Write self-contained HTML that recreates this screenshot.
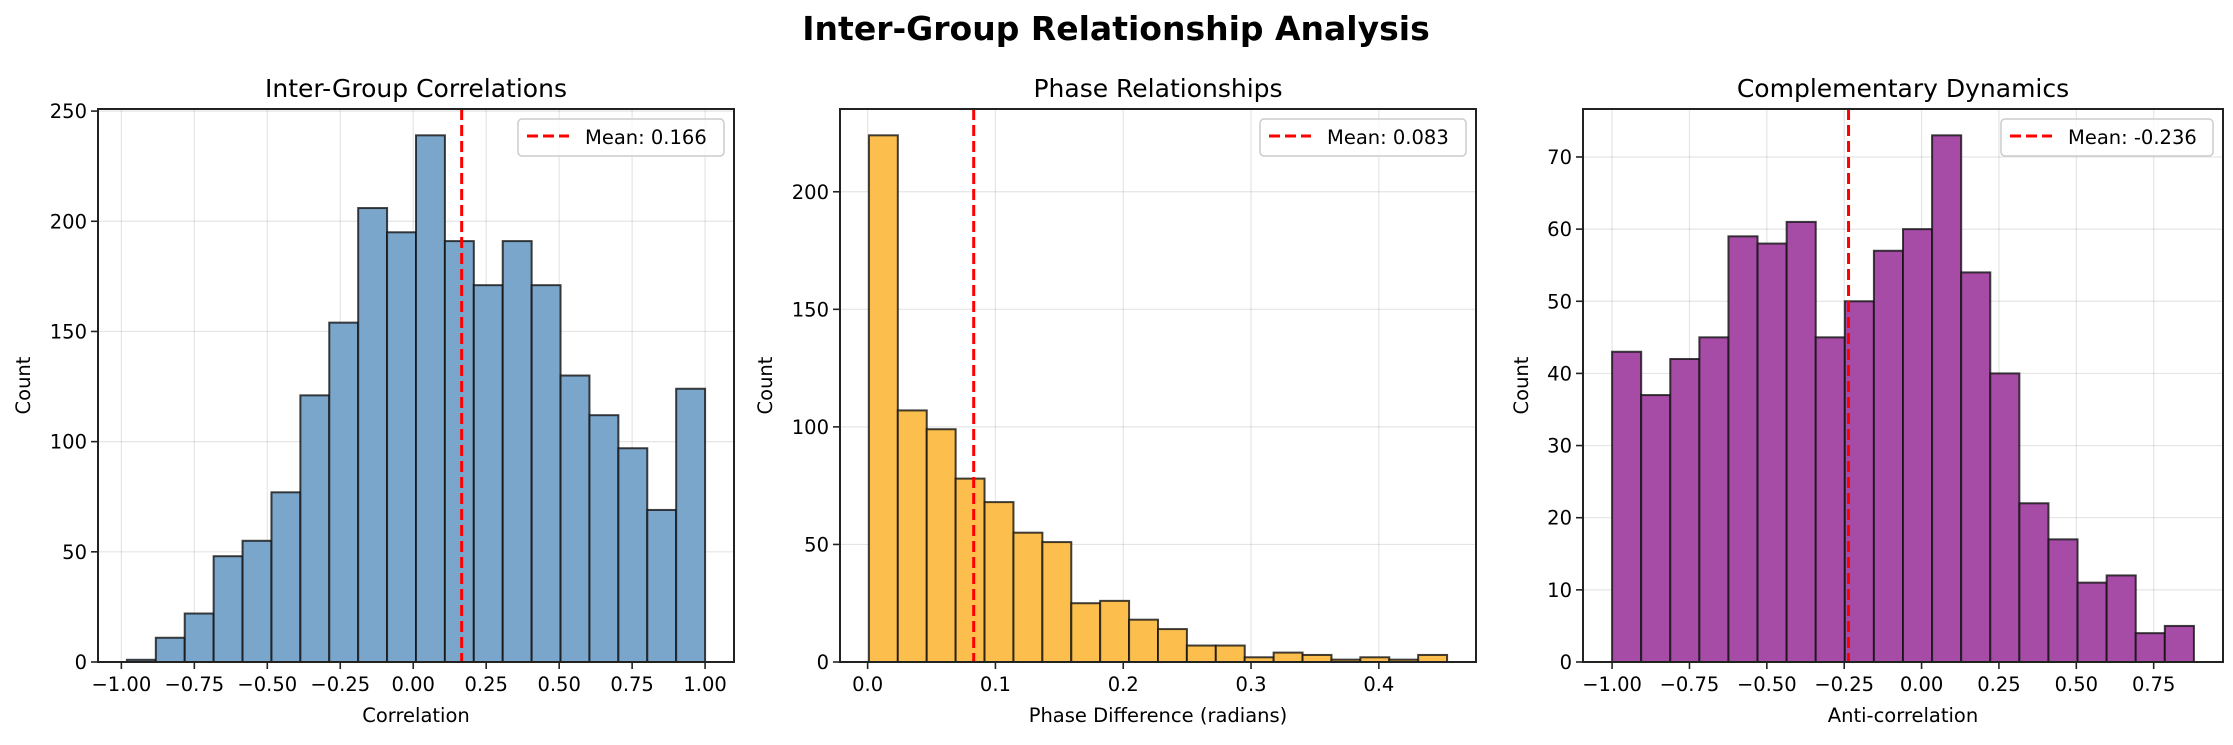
<!DOCTYPE html>
<html><head><meta charset="utf-8"><style>
body{margin:0;background:#fff;}
svg text{font-family:"DejaVu Sans","Liberation Sans",sans-serif;fill:#000;}
</style></head><body>
<svg id="fig" width="2233" height="740" xmlns="http://www.w3.org/2000/svg">
<rect width="2233" height="740" fill="#fff"/>
<text x="1116" y="40" text-anchor="middle" font-size="33" font-weight="bold">Inter-Group Relationship Analysis</text>
</svg>
<script>
const corrCounts=[1,11,22,48,55,77,121,154,206,195,239,191,171,191,171,130,112,97,69,124];
const phaseCounts=[224,107,99,78,68,55,51,25,26,18,14,7,7,2,4,3,1,2,1,3];
const compCounts=[43,37,42,45,59,58,61,45,50,57,60,73,54,40,22,17,11,12,4,5];
const corrRange=[-0.981,1.0];
const phaseRange=[0.001,0.4534];
const compRange=[-1.0,0.88];
const corrMean=0.166, phaseMean=0.083, compMean=-0.236;
const corrXTicks=[-1,-0.75,-0.5,-0.25,0,0.25,0.5,0.75,1];
const corrXLabels=["−1.00","−0.75","−0.50","−0.25","0.00","0.25","0.50","0.75","1.00"];
const corrYTicks=[0,50,100,150,200,250];
const phaseXTicks=[0,0.1,0.2,0.3,0.4];
const phaseXLabels=["0.0","0.1","0.2","0.3","0.4"];
const phaseYTicks=[0,50,100,150,200];
const compXTicks=[-1,-0.75,-0.5,-0.25,0,0.25,0.5,0.75];
const compXLabels=["−1.00","−0.75","−0.50","−0.25","0.00","0.25","0.50","0.75"];
const compYTicks=[0,10,20,30,40,50,60,70];

const NS="http://www.w3.org/2000/svg";
const svg=document.getElementById('fig');
function mk(tag,attrs,parent){const e=document.createElementNS(NS,tag);for(const k in attrs)e.setAttribute(k,attrs[k]);(parent||svg).appendChild(e);return e;}

function panel(o){
  const g=mk('g',{});
  
  
  const L=o.left,R=o.right,T=109,B=662;
  const n=o.counts.length, bw=(o.range[1]-o.range[0])/n;
  const xmin=o.range[0]-bw, xmax=o.range[1]+bw;
  const ymax=Math.max(...o.counts)*1.05;
  const sx=v=>L+(v-xmin)/(xmax-xmin)*(R-L);
  const sy=v=>B-v/ymax*(B-T);
  o.xt.forEach(v=>{const l=mk('line',{x1:sx(v),x2:sx(v),y1:T,y2:B,stroke:'#000','stroke-opacity':0.1,'stroke-width':1.2},g);
    
    });
  o.yt.forEach(v=>{const l=mk('line',{x1:L,x2:R,y1:sy(v),y2:sy(v),stroke:'#000','stroke-opacity':0.1,'stroke-width':1.2},g);
    
    });
  o.counts.forEach((c,i)=>{
    const x0=sx(o.range[0]+i*bw), x1=sx(o.range[0]+(i+1)*bw);
    const r=mk('rect',{x:x0,y:sy(c),width:x1-x0,height:B-sy(c),fill:o.color,stroke:'#111','stroke-opacity':0.8,'stroke-width':2},g);
    
    
  });
  const m=mk('line',{x1:sx(o.mean),x2:sx(o.mean),y1:T,y2:B,stroke:'#ff0000','stroke-width':3,'stroke-dasharray':'11,5'},g);
  
  
  const f=mk('rect',{x:L,y:T,width:R-L,height:B-T,fill:'none',stroke:'#222','stroke-width':2},g);
  
  
  o.xt.forEach((v,i)=>{mk('line',{x1:sx(v),x2:sx(v),y1:B,y2:B+7,stroke:'#222','stroke-width':1.6},g);
    const t=mk('text',{x:sx(v),y:B+29,'text-anchor':'middle','font-size':19.5},g);t.textContent=o.xl[i];
    
    });
  o.yt.forEach(v=>{mk('line',{x1:L-7,x2:L,y1:sy(v),y2:sy(v),stroke:'#222','stroke-width':1.6},g);
    const t=mk('text',{x:L-11,y:sy(v)+7,'text-anchor':'end','font-size':19.5},g);t.textContent=String(v);
    
    });
  const tt=mk('text',{x:(L+R)/2,y:97,'text-anchor':'middle','font-size':25},g);tt.textContent=o.title;
  
  
  const xl=mk('text',{x:(L+R)/2,y:722,'text-anchor':'middle','font-size':19.5},g);xl.textContent=o.xlabel;
  
  
  const yl=mk('text',{x:o.ylx,y:(T+B)/2,'text-anchor':'middle','font-size':19.5,transform:`rotate(-90 ${o.ylx} ${(T+B)/2})`},g);yl.textContent='Count';
  
  
  const lg=mk('g',{},g);
  
  
  const lw=o.legW, lx=R-10-lw;
  mk('rect',{x:lx,y:119,width:lw,height:37,rx:4,fill:'#fff','fill-opacity':0.8,stroke:'#ccc','stroke-width':1.5},lg);
  mk('line',{x1:lx+9,x2:lx+51,y1:136,y2:136,stroke:'#ff0000','stroke-width':3,'stroke-dasharray':'11,5'},lg);
  const lt=mk('text',{x:lx+67,y:144,'font-size':19.5},lg);lt.textContent='Mean: '+o.meanLabel;
  
  
}
panel({name:'correlations-panel',left:98,right:734,counts:corrCounts,range:corrRange,mean:corrMean,meanLabel:'0.166',xt:corrXTicks,xl:corrXLabels,yt:corrYTicks,color:'#7ba6cb',title:'Inter-Group Correlations',xlabel:'Correlation',ylx:30,legW:206});
panel({name:'phase-panel',left:840,right:1476,counts:phaseCounts,range:phaseRange,mean:phaseMean,meanLabel:'0.083',xt:phaseXTicks,xl:phaseXLabels,yt:phaseYTicks,color:'#fcbe4c',title:'Phase Relationships',xlabel:'Phase Difference (radians)',ylx:772,legW:206});
panel({name:'complementary-panel',left:1583,right:2223,counts:compCounts,range:compRange,mean:compMean,meanLabel:'-0.236',xt:compXTicks,xl:compXLabels,yt:compYTicks,color:'#a64ca6',title:'Complementary Dynamics',xlabel:'Anti-correlation',ylx:1528,legW:212});
</script>
</body></html>
